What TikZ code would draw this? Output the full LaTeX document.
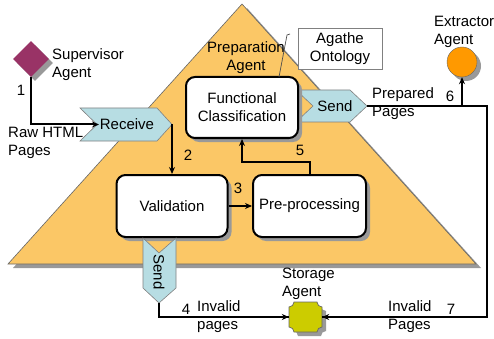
\documentclass[tikz,border=0pt]{standalone}
\usepackage{fontspec}
\setmainfont{Liberation Sans}
\usetikzlibrary{arrows.meta,shapes.geometric,shadows}
\definecolor{prepor}{HTML}{FBC766}
\definecolor{supc}{HTML}{993366}
\definecolor{extc}{HTML}{FF9900}
\definecolor{storc}{HTML}{CCCC00}
\definecolor{chevblue}{HTML}{B7DDE3}
\begin{document}
\begin{tikzpicture}[x=1pt,y=-1pt,
  font=\fontsize{15}{18}\selectfont,
  conn/.style={line width=2pt},
  arr/.style={conn,-{Stealth[length=7pt,width=6pt]}},
  shad/.style={drop shadow={shadow xshift=4pt,shadow yshift=-4pt,fill=black!40,opacity=1}},
  box/.style={draw,line width=2pt,rounded corners=9pt,fill=white,inner sep=0pt,align=center,shad},
  chev/.style={draw=black!50,line width=0.6pt,fill=chevblue},
  lbl/.style={align=left,inner sep=0pt,anchor=west},
  num/.style={inner sep=0pt}]
\useasboundingbox (0,0) rectangle (494,339);
% preparation agent triangle with shadow
\fill[black!40] (247,8) -- (481,268) -- (13,268) -- cycle;
\draw[fill=prepor,draw=black!60,line width=0.6pt] (242,4) -- (476,264) -- (8,264) -- cycle;
\node[align=center,inner sep=0pt] (prep) at (246,57.5) {Preparation\\Agent};
% supervisor agent
\node[diamond,fill=supc,minimum width=36pt,minimum height=36pt,inner sep=0pt,shad] (sup) at (31,59) {};
\node[lbl] (suplbl) at (52,65) {Supervisor\\Agent};
% receive
\path[chev] (80,108) -- (157,108) -- (172,124.5) -- (157,141) -- (80,141) -- (97,124.5) -- cycle;
\node (recv) at (127,124.5) {Receive};
\coordinate (recvin) at (99,124.5);
\coordinate (recvout) at (172,124.5);
\draw[arr] (sup.south) |- (recvin);
\node[num] (n1) at (21,90) {1};
\node[lbl] (rawlbl) at (8,142.5) {Raw HTML\\Pages};
% send (top)
\path[chev] (296,90) -- (350,90) -- (367,106) -- (350,122) -- (296,122) -- (313,106) -- cycle;
\node (send1) at (335,106) {Send};
\coordinate (send1out) at (367,106);
% boxes
\node[box,minimum width=112pt,minimum height=61pt] (fc) at (242,107.5) {Functional\\Classification};
\node[box,minimum width=111pt,minimum height=62pt] (val) at (172,206) {Validation};
\node[box,minimum width=113pt,minimum height=62pt] (pre) at (309.5,206) {Pre-processing};
% send (bottom)
\path[chev] (143,238) -- (159,253) -- (176,238) -- (176,288) -- (159,303) -- (143,288) -- cycle;
\node[rotate=-90] (send2) at (159,272) {Send};
\coordinate (send2out) at (159,303);
% ontology
\node[draw=black!50,line width=0.8pt,fill=white,minimum width=84pt,minimum height=41pt,align=center,inner sep=0pt] (onto) at (340,48.5) {Agathe\\Ontology};
\coordinate (co1) at (290,34);
\coordinate (co2) at (287,35);
\coordinate (co3) at (279,77);
\draw[black!70,line width=0.7pt] (co1) -- (co2) -- (co3);
% extractor
\node[circle,draw=black!60,fill=extc,minimum size=30pt,inner sep=0pt,shad] (ext) at (462,62) {};
\node[lbl] (extlbl) at (434,31.5) {Extractor\\Agent};
% storage
\node[minimum width=33pt,minimum height=30pt,inner sep=0pt] (stor) at (305.5,317) {};
\fill[black!40,shift={(4,4)}] (294,302) -- (317,302) .. controls (317,304.76) and (319.24,307) .. (322,307) -- (322,327) .. controls (319.24,327) and (317,329.24) .. (317,332) -- (294,332) .. controls (294,329.24) and (291.76,327) .. (289,327) -- (289,307) .. controls (291.76,307) and (294,304.76) .. (294,302) -- cycle;
\draw[fill=storc,draw=black!60,line width=0.7pt] (294,302) -- (317,302) .. controls (317,304.76) and (319.24,307) .. (322,307) -- (322,327) .. controls (319.24,327) and (317,329.24) .. (317,332) -- (294,332) .. controls (294,329.24) and (291.76,327) .. (289,327) -- (289,307) .. controls (291.76,307) and (294,304.76) .. (294,302) -- cycle;
\node[lbl] (storlbl) at (282,283.5) {Storage\\Agent};
% connectors
\draw[arr] (recvout) -- (val.north);
\node[num] (n2) at (188,155) {2};
\draw[arr] (val.east) -- (pre.west);
\node[num] (n3) at (238,188) {3};
\coordinate (k5) at (309.5,162);
\draw[arr] (pre.north) -- (k5) -| (fc.south);
\node[num] (n5) at (300,150) {5};
\coordinate (c1) at (487,106);
\coordinate (c2) at (487,317);
\coordinate (j6) at (462,106);
\draw[conn] (send1out) -- (c1) -- (c2) -- (stor.east);
\draw[arr] (c2) -- (stor.east);
\draw[arr] (j6) -- (ext.south);
\node[lbl] (prepdlbl) at (372,104) {Prepared\\Pages};
\node[num] (n6) at (450,96) {6};
\coordinate (c4) at (159,317);
\draw[conn] (send2out) -- (c4) -- (stor.west);
\draw[arr] (c4) -- (stor.west);
\node[num] (n4) at (186,309) {4};
\node[lbl] (inv1) at (197,316.5) {Invalid\\pages};
\node[lbl] (inv2) at (388,316.5) {Invalid\\Pages};
\node[num] (n7) at (451,309) {7};
\end{tikzpicture}
\end{document}
